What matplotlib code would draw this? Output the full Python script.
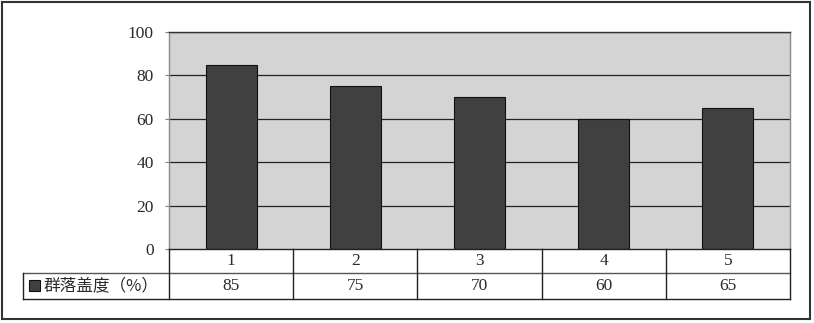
import matplotlib.pyplot as plt
from matplotlib.patches import Rectangle
from matplotlib.lines import Line2D

# data
categories = ['1', '2', '3', '4', '5']
coverage = [85, 75, 70, 60, 65]
series_name = '群落盖度（%）'
y_ticks = [0, 20, 40, 60, 80, 100]

W, H = 814, 323
fonts = ['Liberation Serif', 'Noto Sans CJK SC', 'DejaVu Sans']
plt.rcParams['font.family'] = fonts

fig = plt.figure(figsize=(W / 100, H / 100), dpi=100)

def fx(px):
    return px / W

def fy(py):
    return 1 - py / H

# outer chart frame
fig.patches.append(Rectangle((fx(2), fy(319)), fx(808), 317 / H, transform=fig.transFigure,
                             fill=False, edgecolor='#333333', linewidth=1.5))

ax_l, ax_r, ax_t, ax_b = 169, 790, 32, 249
ax = fig.add_axes([fx(ax_l), fy(ax_b), fx(ax_r - ax_l), (ax_b - ax_t) / H])
ax.set_facecolor('#d4d4d4')

x = list(range(len(categories)))
ax.bar(x, coverage, width=0.41, color='#404040', edgecolor='#111111', linewidth=0.8, zorder=3)
ax.set_xlim(-0.5, len(categories) - 0.5)
ax.set_ylim(0, 100)
ax.set_yticks(y_ticks)
ax.set_yticklabels([str(v) for v in y_ticks], fontsize=12.5, color='#2a2a2a')
ax.tick_params(axis='y', length=3, color='#808080', pad=8)
ax.set_xticks([])
for v in y_ticks[1:]:
    ax.axhline(v, color='#222222', linewidth=0.9, zorder=2)
for s in ax.spines.values():
    s.set_color('#8a8a8a')
    s.set_linewidth(1.0)
ax.spines['bottom'].set_visible(False)
ax.spines['top'].set_color('#333333')

# data table under the plot
row1_top, row1_bot, row2_bot = 249, 273, 299
leg_l = 23
col_px = [ax_l + i * (ax_r - ax_l) / len(categories) for i in range(len(categories) + 1)]

def hline(y, x0, x1, c='#222222'):
    fig.add_artist(Line2D([fx(x0), fx(x1)], [fy(y), fy(y)], transform=fig.transFigure,
                          color=c, linewidth=1.0))

def vline(xp, y0, y1, c='#222222'):
    fig.add_artist(Line2D([fx(xp), fx(xp)], [fy(y0), fy(y1)], transform=fig.transFigure,
                          color=c, linewidth=1.0))

hline(row1_top, ax_l, ax_r)
hline(row1_bot, leg_l, ax_r, c='#555555')
hline(row2_bot, leg_l, ax_r)
vline(leg_l, row1_bot, row2_bot)
for xp in col_px:
    vline(xp, row1_top, row2_bot)

for i, (cat, val) in enumerate(zip(categories, coverage)):
    cx = (col_px[i] + col_px[i + 1]) / 2
    fig.text(fx(cx), fy((row1_top + row1_bot) / 2), cat, ha='center', va='center',
             fontsize=12.5, color='#2a2a2a')
    fig.text(fx(cx), fy((row1_bot + row2_bot) / 2), str(val), ha='center', va='center',
             fontsize=12.5, color='#2a2a2a')

# legend key in the table
fig.patches.append(Rectangle((fx(29), fy(291)), fx(11), 11 / H, transform=fig.transFigure,
                             facecolor='#404040', edgecolor='#111111', linewidth=0.8))
fig.text(fx(44), fy((row1_bot + row2_bot) / 2), series_name, ha='left', va='center',
         fontsize=12, color='#2a2a2a', family=['Noto Sans CJK SC', 'DejaVu Sans'])

fig.savefig('out.png', dpi=100)
